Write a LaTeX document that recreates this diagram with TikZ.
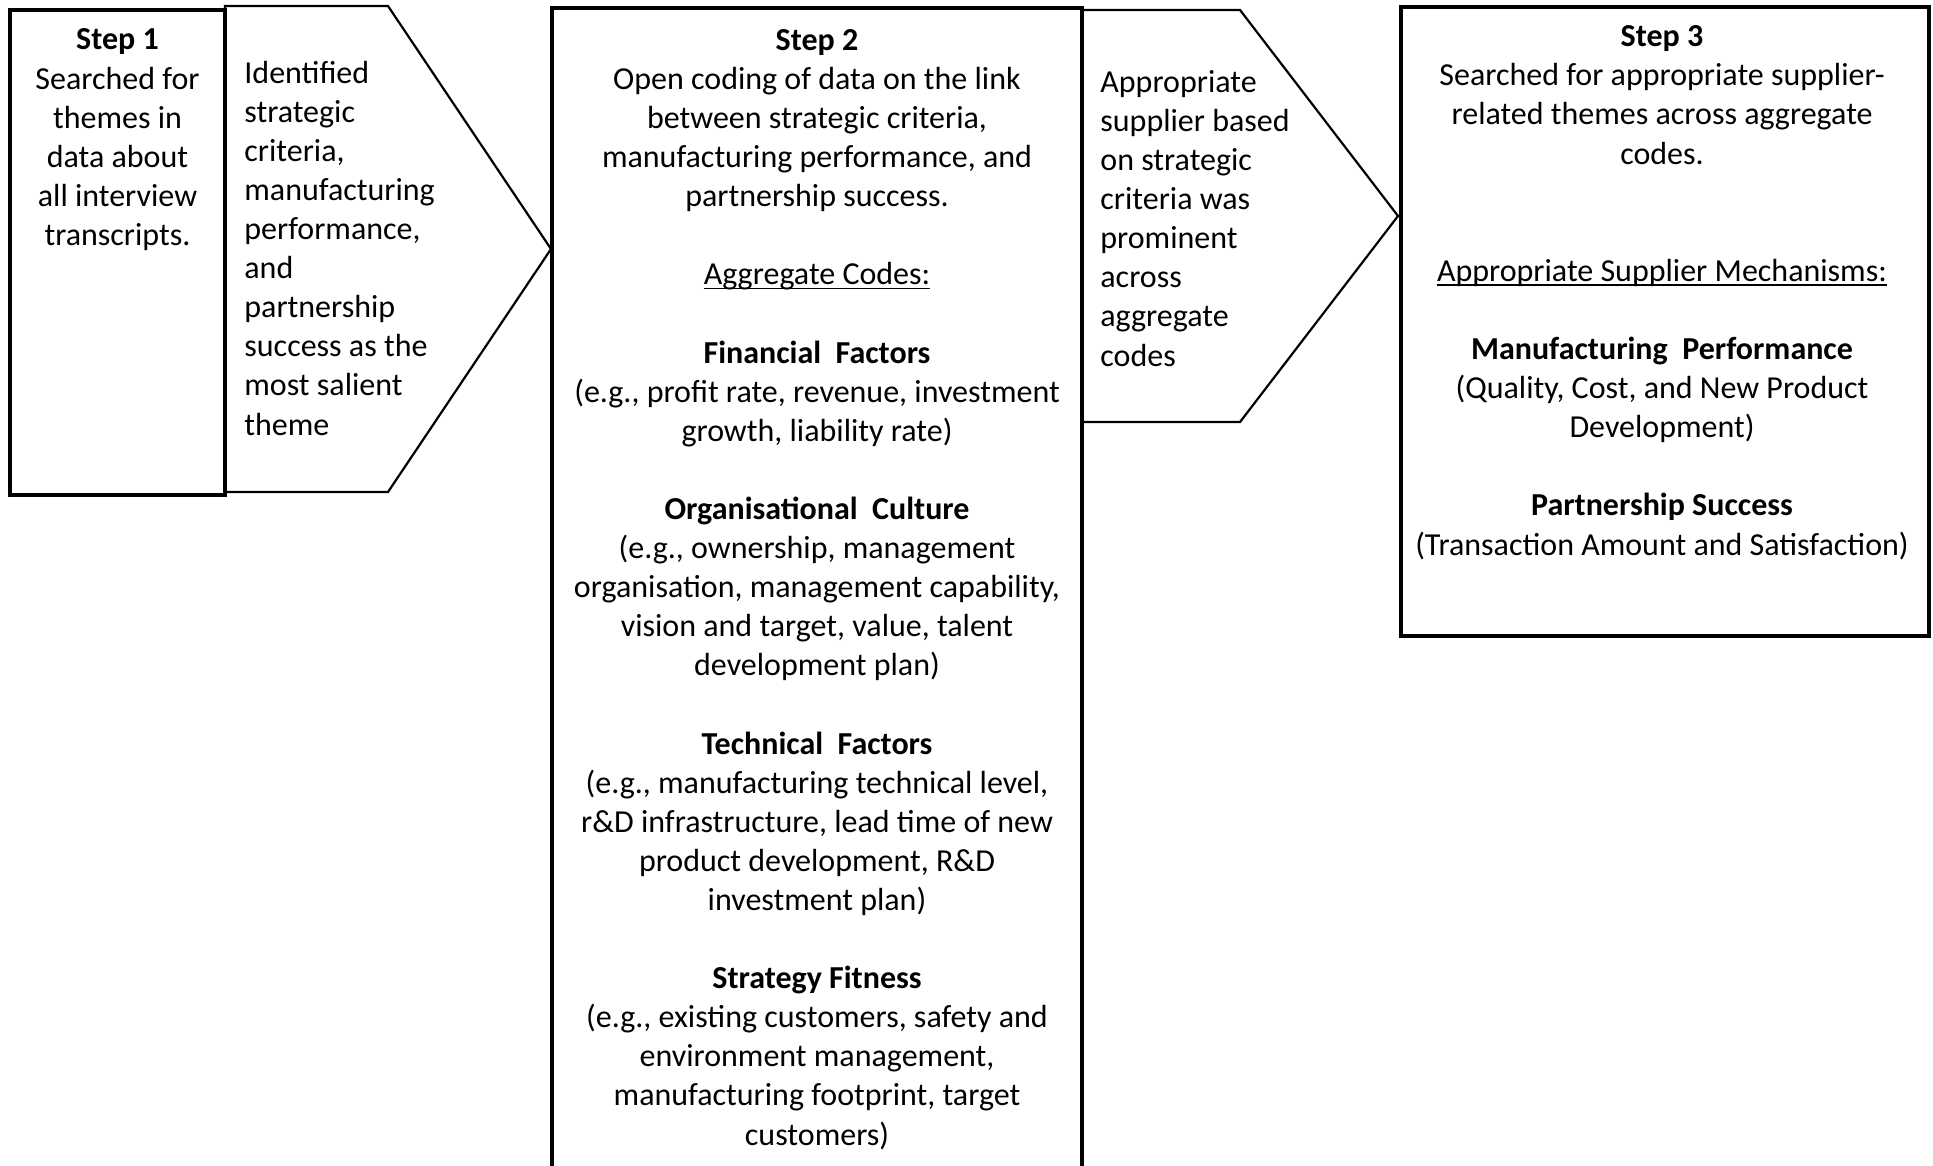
\documentclass[tikz,border=0pt]{standalone}
\usepackage{fontspec}
\setmainfont{Carlito}
% underline set close to the baseline, crossing descenders
\newsavebox\ulbox
\newcommand\ulinetext[1]{\sbox\ulbox{#1}\rlap{\rule[-2.2pt]{\wd\ulbox}{0.8pt}}\usebox\ulbox}
\newdimen\lineunit
\lineunit=19.55pt
\begin{document}
% 1 unit = 1 px of the 1933 x 1166 canvas; the base anchor of each text
% block sits on the baseline of its last line
\begin{tikzpicture}[x=0.5pt,y=-0.5pt,
  stepframe/.style={draw=black,line width=1.8pt},
  chevron/.style={draw=black,line width=1.1pt,line join=miter,fill=white},
  body/.style={font=\fontsize{16}{19.55}\selectfont,inner sep=0pt,text=black},
  centred/.style={body,align=center,anchor=base},
  flushleft/.style={body,align=left,anchor=base west}]
\useasboundingbox (0,0) rectangle (1933,1166);
\clip (0,0) rectangle (1933,1166);
\fill[white] (0,0) rectangle (1933,1166);

% chevrons between the steps
\draw[chevron] (225,6) -- (388,6) -- (551,249) -- (388,492) -- (225,492) -- cycle;
\draw[chevron] (1082,10) -- (1240,10) -- (1398,216) -- (1240,422) -- (1082,422) -- cycle;

% step frames
\draw[stepframe] (10,10) rectangle (225,495);
\draw[stepframe] (552,8) rectangle (1082,1220);
\draw[stepframe] (1401,7) rectangle (1929,636);

% step 1
\node[centred] (s1) at (117.5,245.5) {\textbf{Step 1}\\Searched for\\themes in\\data about\\all interview\\transcripts.};

% first chevron
\node[flushleft] (c1) at (244,435) {Identified\\strategic\\criteria,\\manufacturing\\performance,\\and\\partnership\\success as the\\most salient\\theme};

% step 2
\node[centred] (s2) at (817,1145) {\textbf{Step 2}\\
Open coding of data on the link\\
between strategic criteria,\\
manufacturing performance, and\\
partnership success.\\[\lineunit]
\ulinetext{Aggregate Codes:}\\[\lineunit]
\textbf{Financial\ \ Factors}\\
(e.g., profit rate, revenue, investment\\
growth, liability rate)\\[\lineunit]
\textbf{Organisational\ \ Culture}\\
(e.g., ownership, management\\
organisation, management capability,\\
vision and target, value, talent\\
development plan)\\[\lineunit]
\textbf{Technical\ \ Factors}\\
(e.g., manufacturing technical level,\\
r\&D infrastructure, lead time of new\\
product development, R\&D\\
investment plan)\\[\lineunit]
\textbf{Strategy Fitness}\\
(e.g., existing customers, safety and\\
environment management,\\
manufacturing footprint, target\\
customers)};

% second chevron
\node[flushleft] (c2) at (1100,366) {Appropriate\\supplier based\\on strategic\\criteria was\\prominent\\across\\aggregate\\codes};

% step 3
\node[centred] (s3) at (1662,555) {\textbf{Step 3}\\
Searched for appropriate supplier-\\
related themes across aggregate\\
codes.\\[2\lineunit]
\ulinetext{Appropriate Supplier Mechanisms:}\\[\lineunit]
\textbf{Manufacturing\ \ Performance}\\
(Quality, Cost, and New Product\\
Development)\\[\lineunit]
\textbf{Partnership Success}\\
(Transaction Amount and Satisfaction)};
\end{tikzpicture}
\end{document}
